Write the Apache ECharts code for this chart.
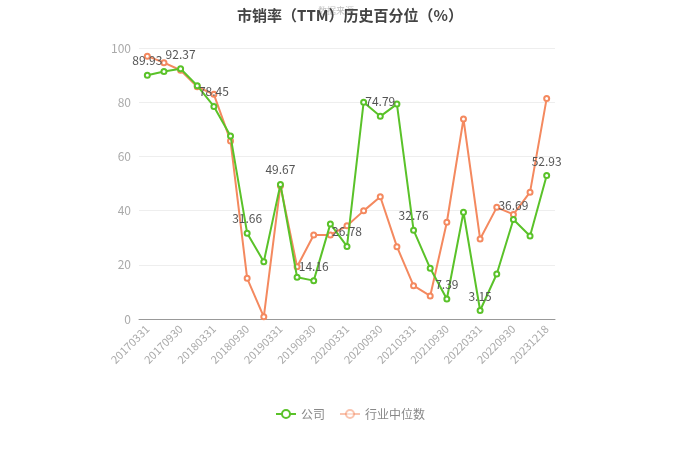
<!DOCTYPE html>
<html><head><meta charset="utf-8">
<script src="https://cdn.jsdelivr.net/npm/echarts@6/dist/echarts.min.js"></script>
<style>html,body{margin:0;padding:0;background:#fff}#c{width:700px;height:474px}</style>
</head><body><div id="c"></div>
<script>
const categories = ['20170331','20170630','20170930','20171231','20180331','20180630','20180930','20181231','20190331','20190630','20190930','20191231','20200331','20200630','20200930','20201231','20210331','20210630','20210930','20211231','20220331','20220630','20220930','20221231','20231218'];
const company = [89.93,91.3,92.37,86.1,78.45,67.5,31.66,21.1,49.67,15.4,14.16,35.1,26.78,80.0,74.79,79.3,32.76,18.7,7.39,39.4,3.15,16.6,36.69,30.6,52.93];
const industry = [97.0,94.6,91.8,85.7,82.9,65.7,15.0,0.8,49.2,19.3,31.0,31.0,34.4,39.9,45.1,26.7,12.3,8.5,35.7,73.8,29.5,41.2,38.6,46.8,81.4];
const labeledIdx = [0,2,4,6,8,10,12,14,16,18,20,22,24];
const yTicks = {min:0, max:100, interval:20};

const chart = echarts.init(document.getElementById('c'));
const green = '#5ac229', orange = '#f4895f';
chart.setOption({
  animation:false,
  title:{text:'市销率（TTM）历史百分位（%）', left:'center', top:3,
    textStyle:{fontSize:15, fontWeight:'bold', color:'#444', fontFamily:'Noto Sans CJK SC'}},
  graphic:[{type:'text', left:318, top:6, style:{text:'数据来源', fontSize:9, fill:'rgba(150,150,150,0.6)', fontFamily:'Noto Sans CJK SC'}}],
  grid:{left:139, right:145, top:48, bottom:155},
  legend:{bottom:49, left:'center', itemWidth:20, itemHeight:10, itemGap:14,
    textStyle:{color:'#888', fontSize:12, fontFamily:'Noto Sans CJK SC'},
    data:[{name:'公司'},{name:'行业中位数', itemStyle:{opacity:0.5}, lineStyle:{opacity:0.5}}]},
  xAxis:{type:'category', data:categories, boundaryGap:true,
    axisLine:{lineStyle:{color:'#999'}},
    axisTick:{alignWithLabel:true, interval:1, lineStyle:{color:'#999'}},
    axisLabel:{interval:1, rotate:45, color:'#aaa', fontSize:11, fontFamily:'Noto Sans CJK SC'}},
  yAxis:{type:'value', min:yTicks.min, max:yTicks.max, interval:yTicks.interval,
    axisLabel:{color:'#aaa', fontSize:12, fontFamily:'Noto Sans CJK SC'},
    splitLine:{lineStyle:{color:'#eee'}}},
  series:[
    {name:'公司', type:'line', data:company.map((v,i)=>({value:v, label:{show:labeledIdx.includes(i)}})),
      symbol:'emptyCircle', symbolSize:5, color:green, lineStyle:{width:2, color:green},
      itemStyle:{color:green},
      label:{position:'top', color:'#555', fontSize:12, fontFamily:'Noto Sans CJK SC', distance:5}, z:3},
    {name:'行业中位数', type:'line', data:industry,
      symbol:'emptyCircle', symbolSize:5, color:orange, lineStyle:{width:2, color:orange},
      itemStyle:{color:orange}, z:2}
  ]
});
</script></body></html>
